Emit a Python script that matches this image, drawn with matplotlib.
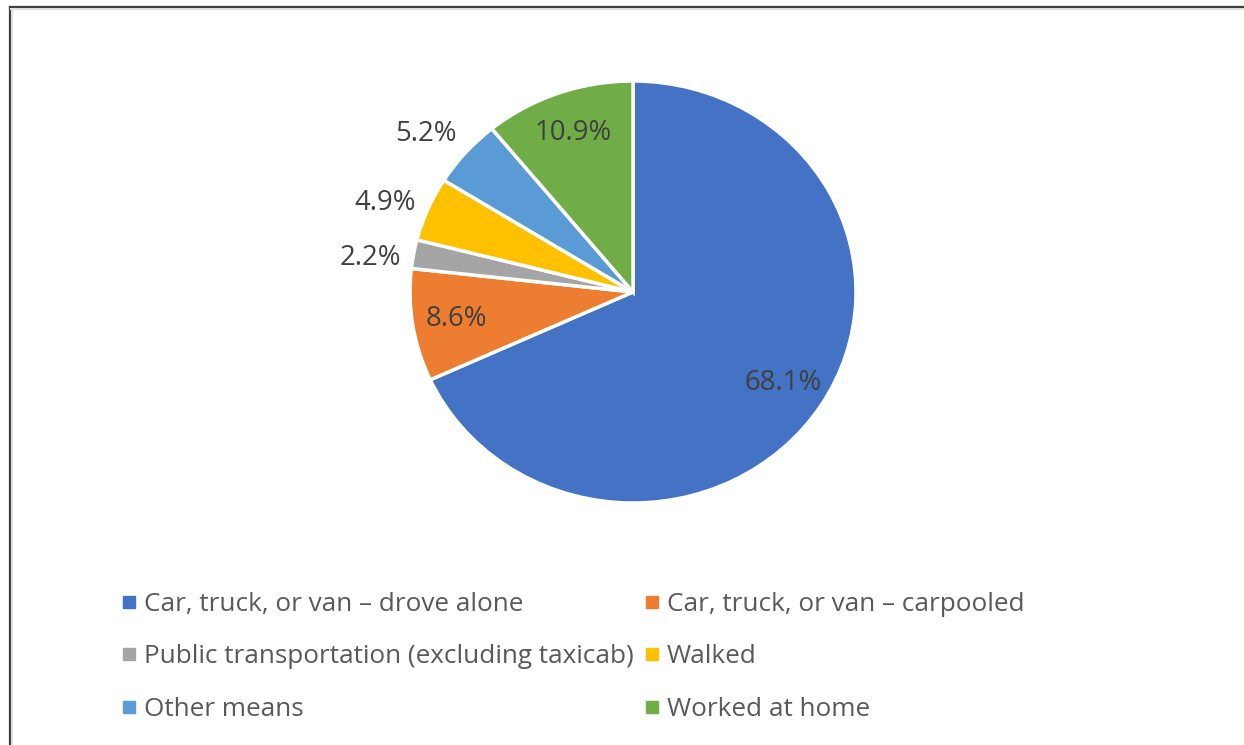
import numpy as np
import matplotlib
matplotlib.use("Agg")
import matplotlib.pyplot as plt
from matplotlib.lines import Line2D

# Means of transportation to work (share of workers, %)
categories = [
    "Car, truck, or van \u2013 drove alone",
    "Car, truck, or van \u2013 carpooled",
    "Public transportation (excluding taxicab)",
    "Walked",
    "Other means",
    "Worked at home",
]
shares = [68.1, 8.6, 2.2, 4.9, 5.2, 10.9]
colors = ["#4472C4", "#ED7D31", "#A5A5A5", "#FFC000", "#5B9BD5", "#70AD47"]

plt.rcParams["font.family"] = ["Open Sans", "DejaVu Sans"]

W, H = 1244, 745
fig = plt.figure(figsize=(W / 100, H / 100), dpi=100)
fig.patch.set_facecolor("white")

# pie axes, sized in pixels (slightly wider than tall)
cx, cy = 633, H - 292
rx, ry = 223, 211
lim = 1.3
ax = fig.add_axes([(cx - lim * rx) / W, (cy - lim * ry) / H,
                   2 * lim * rx / W, 2 * lim * ry / H])

wedges, _ = ax.pie(shares, colors=colors, startangle=90, counterclock=False,
                   wedgeprops=dict(edgecolor="white", linewidth=2.5))
ax.set_aspect("auto")
ax.set_xlim(-lim, lim)
ax.set_ylim(-lim, lim)
ax.axis("off")

# data labels: inside for large slices, just outside (nudged a little
# counter-clockwise) for small ones
for w, v in zip(wedges, shares):
    mid = (w.theta1 + w.theta2) / 2
    if v >= 8:
        r, ang = 0.8, np.deg2rad(mid)
    else:
        r, ang = 1.19, np.deg2rad(mid + 2.5)
    ax.text(r * np.cos(ang), r * np.sin(ang), f"{v:.1f}%",
            ha="center", va="center", fontsize=19.8, color="#404040")

# legend in two columns
handles = [Line2D([], [], linestyle="none", marker="s", markersize=8,
                  markerfacecolor=c, markeredgecolor=c) for c in colors]
common = dict(frameon=False, fontsize=18.8, labelcolor="#595959",
              handlelength=0.6, handletextpad=0.28, labelspacing=1.05,
              borderpad=0, borderaxespad=0, loc="upper left")
fig.legend(handles[0::2], categories[0::2],
           bbox_to_anchor=(121 / W, 1 - 592 / H), **common)
fig.legend(handles[1::2], categories[1::2],
           bbox_to_anchor=(644 / W, 1 - 592 / H), **common)

# window edge along the top and left
fig.add_artist(Line2D([9.5 / W, 1], [1 - 6.5 / H, 1 - 6.5 / H],
                      transform=fig.transFigure, color="#3a3a3a", lw=1.6))
fig.add_artist(Line2D([9.5 / W, 9.5 / W], [0, 1 - 6.5 / H],
                      transform=fig.transFigure, color="#3a3a3a", lw=1.6))
fig.add_artist(Line2D([11 / W, 1], [1 - 9 / H, 1 - 9 / H],
                      transform=fig.transFigure, color="#e0e0e0", lw=1.5))
fig.add_artist(Line2D([12 / W, 12 / W], [0, 1 - 9 / H],
                      transform=fig.transFigure, color="#e0e0e0", lw=1.5))

fig.savefig("out.png", dpi=100)
